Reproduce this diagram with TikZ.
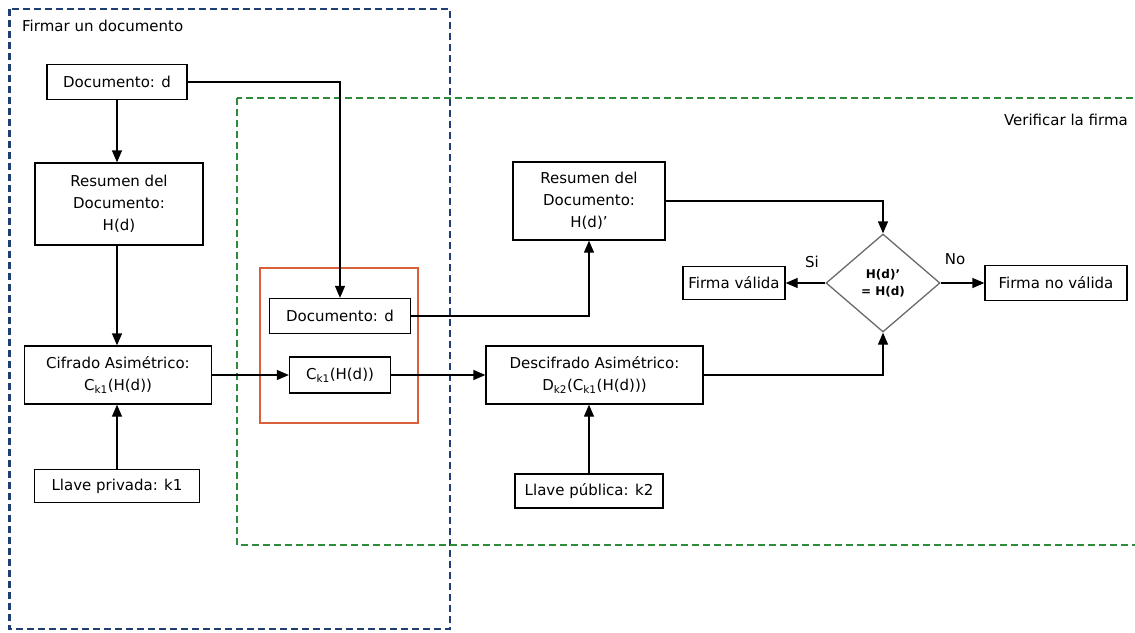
\documentclass[tikz,border=0pt]{standalone}
\usepackage{fontspec}
\setmainfont{DejaVu Sans}
\usetikzlibrary{shapes.geometric,arrows.meta}
\definecolor{bluebox}{HTML}{1F3F73}
\definecolor{greenbox}{HTML}{2E8B3A}
\definecolor{redbox}{HTML}{D9603B}
\definecolor{diagray}{HTML}{6A6A6A}
\begin{document}
\begin{tikzpicture}[x=1pt,y=-1pt,
  every node/.style={font=\fontsize{15}{22}\selectfont},
  blk/.style={draw=black,line width=1.3pt,rectangle,inner sep=0pt,align=center},
  arr/.style={line width=1.3pt,-{Triangle[length=12pt,width=10pt]}},
  lbl/.style={inner sep=0pt}]
\useasboundingbox (0,0) rectangle (1135,632);
% group frames
\draw[bluebox,line width=1.6pt,dash pattern=on 7pt off 4pt] (9,9) rectangle (450,629);
\draw[bluebox,line width=3pt,dash pattern=on 7pt off 4pt] (9,9) -- (9,629);
\node[lbl,anchor=west] (t1) at (22,26) {Firmar un documento};
\draw[greenbox,line width=1.2pt,dash pattern=on 7pt off 4pt] (237,98) rectangle (1140,545);
\node[lbl,anchor=east] (t2) at (1128,120) {Verificar la firma};
\draw[redbox,line width=1.4pt] (260,268) rectangle (418,423);
% boxes
\node[blk,minimum width=140pt,minimum height=35pt] (docL) at (117,82) {Documento: d};
\node[blk,minimum width=168pt,minimum height=82pt] (resL) at (119,204) {Resumen del\\Documento:\\H(d)};
\node[blk,minimum width=187pt,minimum height=58pt] (cif) at (118,375) {Cifrado Asimétrico:\\C\textsubscript{k1}(H(d))};
\node[blk,minimum width=165pt,minimum height=33pt] (llpriv) at (117,486) {Llave privada: k1};
\node[blk,minimum width=141pt,minimum height=35pt] (docI) at (340,316) {Documento: d};
\node[blk,minimum width=101pt,minimum height=36pt] (ckI) at (340,375) {C\textsubscript{k1}(H(d))};
\node[blk,minimum width=152pt,minimum height=78pt] (resR) at (589,201) {Resumen del\\Documento:\\H(d)'};
\node[blk,minimum width=217pt,minimum height=58pt] (desc) at (594.5,375) {Descifrado Asimétrico:\\D\textsubscript{k2}(C\textsubscript{k1}(H(d)))};
\node[blk,minimum width=148pt,minimum height=34pt] (llpub) at (589,491) {Llave pública: k2};
\node[draw=diagray,line width=1.3pt,diamond,inner sep=0pt,minimum width=114pt,minimum height=98pt,aspect=1.16,align=center,font=\fontsize{12}{17}\selectfont\bfseries] (dia) at (883,283) {H(d)'\\= H(d)};
\node[blk,minimum width=102pt,minimum height=33pt] (fv) at (734,283) {Firma válida};
\node[blk,minimum width=142pt,minimum height=35pt] (fnv) at (1056,283) {Firma no válida};
% connectors
\draw[arr] (docL.south) -- (docL.south |- resL.north);
\draw[arr] (docL.south |- resL.south) -- (docL.south |- cif.north);
\draw[arr] (llpriv.north) -- (llpriv.north |- cif.south);
\draw[arr] (docL.east) -| (docI.north);
\draw[arr] (cif.east) -- (ckI.west);
\draw[arr] (ckI.east) -- (desc.west);
\draw[arr] (docI.east) -| (resR.south);
\draw[arr] (resR.east) -| (dia.north);
\draw[arr] (desc.east) -| (dia.south);
\draw[arr] (llpub.north) -- (llpub.north |- desc.south);
\draw[arr] (dia.west) -- (fv.east);
\draw[arr] (dia.east) -- (fnv.west);
\node[lbl] (si) at (812,262) {Si};
\node[lbl] (no) at (955,259) {No};
\end{tikzpicture}
\end{document}
